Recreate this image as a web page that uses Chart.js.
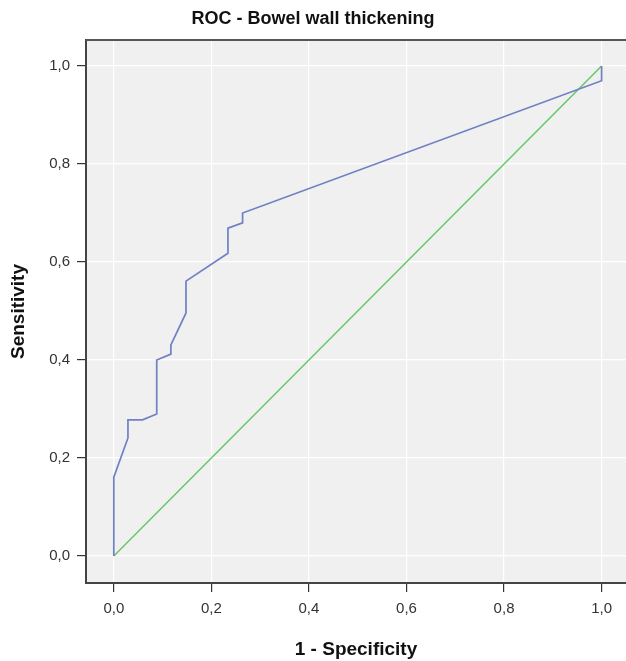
<!DOCTYPE html>
<html>
<head>
<meta charset="utf-8">
<script src="https://cdn.jsdelivr.net/npm/chart.js@4"></script>
<style>
  html, body { margin: 0; padding: 0; background: #fff; }
  #wrap { width: 626px; height: 661px; }
</style>
</head>
<body>
<div id="wrap"><canvas id="myChart" width="626" height="661"></canvas></div>
<script>
// ROC curve values
var fpr = [0, 0, 0.029, 0.029, 0.059, 0.088, 0.088, 0.117, 0.117, 0.148, 0.148, 0.234, 0.234, 0.264, 0.264, 1.0, 1.0];
var tpr = [0, 0.161, 0.241, 0.278, 0.278, 0.29, 0.40, 0.412, 0.431, 0.496, 0.561, 0.618, 0.669, 0.68, 0.70, 0.97, 1.0];
var refX = [0, 1];
var refY = [0, 1];
var tickVals = [0, 0.2, 0.4, 0.6, 0.8, 1.0];

var fontFam = "'Liberation Sans', Arial, sans-serif";

function pts(xs, ys) {
  return xs.map(function(x, i) { return {x: x, y: ys[i]}; });
}
function fmt(v) {
  return v.toFixed(1).replace('.', ',');
}

// grey plot background plus top border
var plotBg = {
  id: 'plotBg',
  beforeDraw: function(chart) {
    var a = chart.chartArea, c = chart.ctx;
    c.save();
    c.fillStyle = '#f0f0f0';
    c.fillRect(a.left, a.top, a.right - a.left, a.bottom - a.top);
    c.restore();
  },
  afterDraw: function(chart) {
    var a = chart.chartArea, c = chart.ctx;
    c.save();
    c.strokeStyle = '#555';
    c.lineWidth = 2;
    c.beginPath();
    c.moveTo(a.left, a.top);
    c.lineTo(a.right, a.top);
    c.stroke();
    c.restore();
  }
};

var ctx = document.getElementById("myChart");
var myChart = new Chart(ctx, {
  type: 'scatter',
  data: {
    datasets: [{
      label: 'ROC',
      data: pts(fpr, tpr),
      showLine: true,
      borderColor: 'rgb(112,128,196)',
      borderWidth: 1.7,
      pointRadius: 0,
      tension: 0
    }, {
      label: 'Reference',
      data: pts(refX, refY),
      showLine: true,
      borderColor: 'rgb(102,200,102)',
      borderWidth: 1.5,
      pointRadius: 0,
      tension: 0
    }]
  },
  plugins: [plotBg],
  options: {
    responsive: false,
    animation: false,
    layout: { padding: 0 },
    plugins: {
      legend: { display: false },
      tooltip: { enabled: false },
      title: {
        display: true,
        text: 'ROC - Bowel wall thickening',
        color: '#111',
        font: { family: fontFam, size: 18, weight: 'bold', lineHeight: 1.2 },
        padding: { top: 8, bottom: 10.4 }
      }
    },
    scales: {
      x: {
        type: 'linear',
        min: -0.057,
        max: 1.05,
        afterBuildTicks: function(s) { s.ticks = tickVals.map(function(v) { return {value: v}; }); },
        afterFit: function(s) { s.height = 78; },
        grid: { color: '#ffffff', lineWidth: 1.2, tickColor: '#333', tickLength: 9 },
        border: { color: '#444', width: 2 },
        ticks: { color: '#333', padding: 8, maxRotation: 0, font: { family: fontFam, size: 15 }, callback: fmt },
        title: {
          display: true,
          text: '1 - Specificity',
          color: '#111',
          font: { family: fontFam, size: 19, weight: 'bold', lineHeight: 1.2 },
          padding: { top: 0, bottom: 0 }
        }
      },
      y: {
        type: 'linear',
        min: -0.055,
        max: 1.053,
        afterBuildTicks: function(s) { s.ticks = tickVals.map(function(v) { return {value: v}; }); },
        afterFit: function(s) { s.width = 86; },
        grid: { color: '#ffffff', lineWidth: 1.2, tickColor: '#333', tickLength: 9 },
        border: { color: '#444', width: 2 },
        ticks: { color: '#333', padding: 7, font: { family: fontFam, size: 15 }, callback: fmt },
        title: {
          display: true,
          text: 'Sensitivity',
          color: '#111',
          font: { family: fontFam, size: 19, weight: 'bold', lineHeight: 1.2 },
          padding: { top: 7, bottom: 0 }
        }
      }
    }
  }
});
</script>
</body>
</html>
